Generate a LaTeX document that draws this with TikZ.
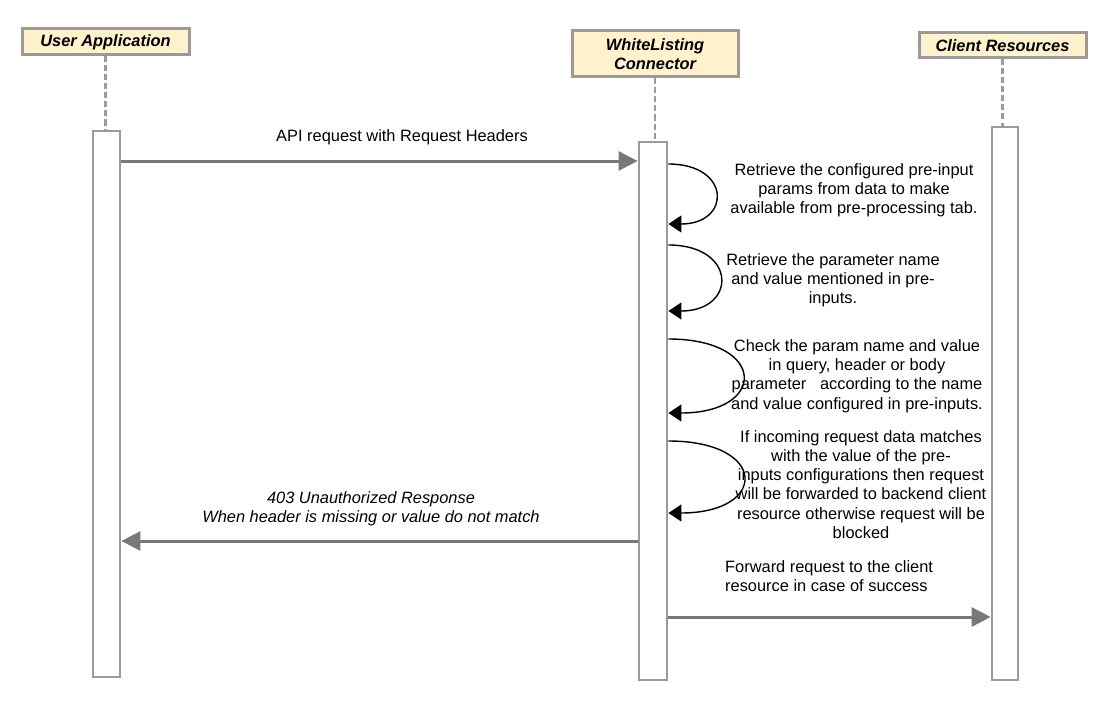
\documentclass[tikz,border=0pt]{standalone}
\usepackage{fontspec}
\setmainfont{Liberation Sans}
\usetikzlibrary{arrows.meta}
\definecolor{headfill}{HTML}{FFF2CC}
\definecolor{boxgray}{HTML}{9A9A9A}
\definecolor{msggray}{HTML}{787878}
\tikzset{
	every node/.style={font=\fontsize{16.4}{19.2}\selectfont},
	header/.style={draw=boxgray, line width=3pt, fill=headfill, align=center,
		font=\fontsize{16.4}{19.2}\selectfont\bfseries\itshape, inner sep=0pt},
	actbox/.style={draw=boxgray, line width=2.8pt, fill=white, inner sep=0pt},
	lifeline/.style={draw=boxgray, line width=2.6pt, dash pattern=on 6pt off 3pt},
	msg/.style={draw=msggray, line width=3pt, -{Triangle[length=19pt,width=19pt]}},
	selfloop/.style={draw=black, line width=1.4pt, -{Triangle[length=13pt,width=17pt]}},
	note/.style={align=center, inner sep=0pt}
}
\begin{document}
\begin{tikzpicture}[x=1pt, y=-1pt]
			%%%%% START %%%%%
			\useasboundingbox (0, 0) rectangle (1115, 706);
			
			% participants
			\node[header, minimum width=167, minimum height=26] (uahead) at (105.5, 42) {User Application};
			\node[header, minimum width=166, minimum height=46] (wlhead) at (655, 54) {WhiteListing\\Connector};
			\node[header, minimum width=167, minimum height=25] (crhead) at (1002.5, 45.5) {Client Resources};
			
			% activation bars
			\node[actbox, minimum width=27, minimum height=546] (ua) at (106.5, 404) {};
			\node[actbox, minimum width=28, minimum height=538] (wl) at (653, 411) {};
			\node[actbox, minimum width=26, minimum height=553] (cr) at (1005, 403.5) {};
			
			\draw[lifeline] (uahead.south) -- (uahead.south |- ua.north);
			\draw[lifeline] (wlhead.south) -- (wlhead.south |- wl.north);
			\draw[lifeline] (crhead.south) -- (crhead.south |- cr.north);
			
			% message levels
			\coordinate (api) at (0, 161);
			\coordinate (deny) at (0, 541);
			\coordinate (fwd) at (0, 617);
			
			\draw[msg] (ua.east |- api) -- (wl.west |- api);
			\node[note] (apilabel) at (402, 137) {API request with Request Headers};
			
			\draw[msg] (wl.west |- deny) -- (ua.east |- deny);
			\node[note, font=\fontsize{16.4}{19.2}\selectfont\itshape] (denylabel) at (371, 508.5)
				{403 Unauthorized Response\\When header is missing or value do not match};
			
			\draw[msg] (wl.east |- fwd) -- (cr.west |- fwd);
			\node[note, align=left, anchor=west] (fwdlabel) at (725, 576.5)
				{Forward request to the client\\resource in case of success};
			
			% self calls on the connector
			\coordinate (s1a) at (0, 164);
			\coordinate (s1b) at (0, 224);
			\coordinate (s2a) at (0, 245);
			\coordinate (s2b) at (0, 311);
			\coordinate (s3a) at (0, 339);
			\coordinate (s3b) at (0, 413);
			\coordinate (s4a) at (0, 441);
			\coordinate (s4b) at (0, 513);
			
			\draw[selfloop] (wl.east |- s1a) .. controls +(63, 0) and +(63, 0) .. (wl.east |- s1b);
			\node[note] (step1) at (854, 190)
				{Retrieve the configured pre-input\\params from data to make\\available from pre-processing tab.};
			
			\draw[selfloop] (wl.east |- s2a) .. controls +(69, 0) and +(69, 0) .. (wl.east |- s2b);
			\node[note] (step2) at (833, 280)
				{Retrieve the parameter name\\and value mentioned in pre-\\inputs.};
			
			\draw[selfloop] (wl.east |- s3a) .. controls +(99, 0) and +(99, 0) .. (wl.east |- s3b);
			\node[note] (step3) at (857, 376)
				{Check the param name and value\\in query, header or body\\parameter\ \ \ according to the name\\and value configured in pre-inputs.};
			
			\draw[selfloop] (wl.east |- s4a) .. controls +(100, 0) and +(100, 0) .. (wl.east |- s4b);
			\node[note] (step4) at (861, 484.5)
				{If incoming request data matches\\with the value of the pre-\\inputs configurations then request\\will be forwarded to backend client\\resource otherwise request will be\\blocked};
			
			%%%%% END %%%%%
\end{tikzpicture}
\end{document}
